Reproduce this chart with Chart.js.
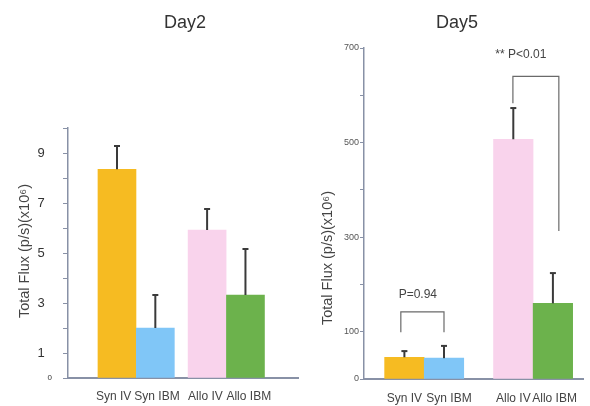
<!DOCTYPE html>
<html><head><meta charset="utf-8">
<script src="https://cdn.jsdelivr.net/npm/chart.js@4.4.1/dist/chart.umd.min.js"></script>
<style>
html,body{margin:0;padding:0;background:#fff;width:590px;height:406px;overflow:hidden}
#c1{position:absolute;left:0;top:0}
#c2{position:absolute;left:300px;top:0}
</style></head><body>
<canvas id="c1" width="300" height="406"></canvas>
<canvas id="c2" width="290" height="406"></canvas>
<script>
// ---- data ----
const categories = ["Syn IV", "Syn IBM", "Allo IV", "Allo IBM"];
const day2Values = [8.35, 2.0, 5.92, 3.32];
const day2Errors = [0.93, 1.32, 0.84, 1.84];
const day5Values = [46, 44, 507, 160];
const day5Errors = [13, 26, 66, 64];
const day2TickLabels = [0, 1, 3, 5, 7, 9];
const day5TickLabels = [0, 100, 300, 500, 700];
const day5Annotations = ["P=0.94", "** P<0.01"];

// ---- styles / layout ----
const FONT = "'Liberation Sans', Arial, sans-serif";
const barColors = ['#F6BB22', '#80C6F7', '#F9D3EC', '#6CB24C'];
const axisColor = '#8891a6';

const annot = {
  id: 'annot',
  afterDatasetsDraw(chart, args, o) {
    const ctx = chart.ctx, xs = chart.scales.x, ys = chart.scales.y;
    const meta = chart.getDatasetMeta(0);
    const data = chart.data.datasets[0].data;
    ctx.save();
    ctx.strokeStyle = '#3a3a3a'; ctx.lineWidth = 2;
    o.errors.forEach((e, i) => {
      const x = meta.data[i].x;
      const y0 = ys.getPixelForValue(data[i].y), y1 = ys.getPixelForValue(data[i].y + e);
      ctx.beginPath(); ctx.moveTo(x, y0); ctx.lineTo(x, y1); ctx.stroke();
      ctx.beginPath(); ctx.moveTo(x - 3, y1); ctx.lineTo(x + 3, y1); ctx.stroke();
    });
    ctx.strokeStyle = '#6a6a6a'; ctx.lineWidth = 1.2;
    (o.brackets || []).forEach(b => {
      const xa = xs.getPixelForValue(b.x1), xb = xs.getPixelForValue(b.x2);
      const yt = ys.getPixelForValue(b.top), ya = ys.getPixelForValue(b.left), yb = ys.getPixelForValue(b.right);
      ctx.beginPath(); ctx.moveTo(xa, ya); ctx.lineTo(xa, yt); ctx.lineTo(xb, yt); ctx.lineTo(xb, yb); ctx.stroke();
    });
    ctx.fillStyle = '#444'; ctx.textAlign = 'center'; ctx.textBaseline = 'middle';
    ctx.font = '12px ' + FONT;
    (o.notes || []).forEach(n => {
      ctx.fillText(n.text, xs.getPixelForValue(n.x), ys.getPixelForValue(n.y));
    });
    ctx.restore();
  },
  afterDraw(chart, args, o) {
    const ctx = chart.ctx;
    ctx.save();
    ctx.textAlign = 'center'; ctx.textBaseline = 'middle';
    ctx.fillStyle = '#333';
    ctx.font = '18px ' + FONT;
    ctx.fillText(o.title.text, o.title.x, o.title.y);
    ctx.translate(o.ytitle.x, o.ytitle.y);
    ctx.rotate(-Math.PI / 2);
    ctx.fillStyle = '#444';
    ctx.font = '14.5px ' + FONT;
    ctx.fillText(o.ytitle.text, 0, 0);
    ctx.restore();
  }
};

// pad a label with spaces so that its visual centre moves by `shift` px
function shiftLabel(text, shift) {
  const n = Math.round(Math.abs(shift) * 2 / 3.33);
  const sp = ' '.repeat(n);
  return shift < 0 ? text + sp : sp + text;
}

function makeChart(id, cfg) {
  const data = cfg.values.map((v, i) => ({ x: cfg.slots[i], y: v }));
  return new Chart(document.getElementById(id), {
    type: 'bar',
    data: { datasets: [{ data, backgroundColor: barColors, barThickness: cfg.barW, borderWidth: 0 }] },
    plugins: [annot],
    options: {
      responsive: false, animation: false, devicePixelRatio: 1,
      layout: { padding: { top: cfg.padTop, right: cfg.padRight, left: 0, bottom: 0 } },
      plugins: {
        legend: { display: false }, tooltip: { enabled: false },
        annot: { errors: cfg.errors, brackets: cfg.brackets, notes: cfg.notes, title: cfg.title, ytitle: cfg.ytitle }
      },
      scales: {
        x: {
          type: 'linear', min: cfg.xmin, max: cfg.xmax, offset: false,
          afterBuildTicks: s => { s.ticks = cfg.slots.map(v => ({ value: v })); },
          afterFit: s => { s.height = cfg.xH; },
          grid: { display: true, drawOnChartArea: false, drawTicks: false },
          border: { display: true, color: axisColor, width: 2 },
          ticks: {
            autoSkip: false, maxRotation: 0, padding: cfg.xPad, color: '#444',
            font: { family: FONT, size: 12 },
            callback: (v, i) => shiftLabel(categories[i], cfg.labelShift[i])
          }
        },
        y: {
          min: 0, max: cfg.ymax,
          afterBuildTicks: s => { const t = []; for (let v = 0; v <= cfg.ymax + 1e-9; v += cfg.step) t.push({ value: v }); s.ticks = t; },
          afterFit: s => { s.width = cfg.yW; },
          grid: { display: true, drawOnChartArea: false, drawTicks: true, tickLength: cfg.tickLen, color: axisColor, lineWidth: 1 },
          border: { display: true, color: axisColor, width: 1.5 },
          ticks: {
            autoSkip: false, padding: cfg.yPad, color: cfg.yColor,
            font: c => ({ family: FONT, size: (c.tick && c.tick.value === 0) ? cfg.zeroSize : cfg.ySize }),
            callback: v => cfg.tickLabels.includes(Math.round(v)) ? (Math.round(v) === 0 ? '0' : String(Math.round(v)) + cfg.ySuffix) : ''
          }
        }
      }
    }
  });
}

makeChart('c1', {
  values: day2Values, errors: day2Errors, slots: [1, 2, 3.35, 4.35],
  barW: 38, xmin: -0.277, xmax: 5.72, ymax: 10, step: 1, tickLabels: day2TickLabels,
  padTop: 128, padRight: 2, xH: 28, yW: 68, xPad: 11, tickLen: 5, yPad: 11,
  ySize: 13, zeroSize: 8, yColor: '#333', ySuffix: '  ',
  labelShift: [-4, 1.5, -1.5, 3],
  brackets: [], notes: [],
  title: { text: 'Day2', x: 185, y: 23 },
  ytitle: { text: 'Total Flux (p/s)(x10⁶)', x: 25, y: 251 }
});

makeChart('c2', {
  values: day5Values, errors: day5Errors, slots: [1, 2, 3.75, 4.75],
  barW: 39.5, xmin: -0.02, xmax: 5.51, ymax: 700, step: 100, tickLabels: day5TickLabels,
  padTop: 48, padRight: 7, xH: 27, yW: 64, xPad: 12, tickLen: 4, yPad: 1,
  ySize: 9, zeroSize: 9, yColor: '#555', ySuffix: '',
  labelShift: [0, 5, 0, 1.5],
  brackets: [
    { x1: 0.91, x2: 2.0, top: 142, left: 99, right: 99 },
    { x1: 3.74, x2: 4.9, top: 640, left: 583, right: 313 }
  ],
  notes: [
    { text: day5Annotations[0], x: 1.34, y: 178 },
    { text: day5Annotations[1], x: 3.94, y: 685 }
  ],
  title: { text: 'Day5', x: 157, y: 23 },
  ytitle: { text: 'Total Flux (p/s)(x10⁶)', x: 28, y: 258 }
});
</script>
</body></html>
